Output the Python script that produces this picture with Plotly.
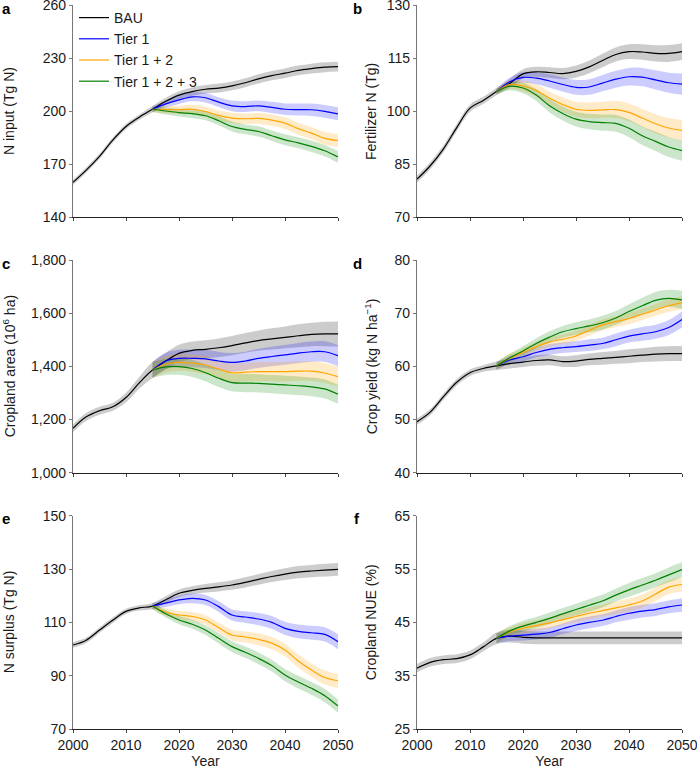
import plotly.graph_objects as go

BAU_YEARS = [2000 + 2.5 * i for i in range(21)]
TIER_YEARS = [2015 + 2.5 * i for i in range(15)]
SERIES = ["BAU", "Tier 1", "Tier 1 + 2", "Tier 1 + 2 + 3"]
LINE_COLORS = ["#000000", "#0000ff", "#ffa500", "#008000"]
BAND_COLORS = ["rgba(120,120,120,0.38)", "rgba(0,0,255,0.2)", "rgba(255,165,0,0.22)", "rgba(0,128,0,0.2)"]
X_TICKS = [2000, 2010, 2020, 2030, 2040, 2050]

# Panel a: N input (Tg N)
A_BAU = [159.6, 166.5, 174.3, 183.5, 191.2, 196.5, 201, 205.5, 209, 211, 212.3, 213, 214.2, 216, 218.2, 220, 221.4, 223, 224, 224.8, 225.1]
A_T1 = [201, 204, 206.3, 208, 207.5, 205, 202.9, 202.5, 202.9, 202, 201, 200.8, 200.7, 199.8, 198.4]
A_T12 = [201, 200.8, 200.7, 201, 199.7, 197.5, 196, 195.6, 195.8, 194.8, 193.1, 190, 187.5, 184.5, 183.3]
A_T123 = [201, 200, 199.1, 198.5, 197.3, 194.5, 191.2, 189.6, 188.4, 186, 183.7, 182, 180, 177.5, 174]
A_BAU_U = [1.5, 1.5, 1.5, 1.5, 1.5, 1.5, 1.8, 2, 2.2, 2.3, 2.4, 2.5, 2.5, 2.5, 2.6, 2.6, 2.7, 2.7, 2.8, 2.8, 2.8]
A_T1_U = [1.5, 2, 2.3, 2.5, 2.7, 2.8, 3, 3, 3.1, 3.2, 3.3, 3.4, 3.5, 3.6, 3.7]
A_T12_U = [1.5, 2, 2.3, 2.5, 2.7, 2.8, 3, 3, 3.1, 3.2, 3.3, 3.4, 3.5, 3.6, 3.7]
A_T123_U = [1.5, 2, 2.2, 2.4, 2.5, 2.6, 2.8, 2.8, 2.9, 3, 3.1, 3.1, 3.2, 3.2, 3.3]

# Panel b: Fertilizer N (Tg)
B_BAU = [80.7, 84.5, 89.3, 95.3, 100.8, 103, 105.5, 107.8, 110.5, 111.1, 110.9, 110.6, 111.2, 112.5, 114.3, 116, 116.8, 116.7, 116.3, 116.3, 116.8]
B_T1 = [105.5, 108.3, 109.5, 109.3, 108.5, 107.5, 106.7, 106.8, 107.9, 109, 109.7, 109.6, 108.8, 108, 107.6]
B_T12 = [105.5, 107.5, 107.1, 105.8, 103.6, 101.8, 100.5, 100.2, 100.3, 100.4, 99.6, 98, 96.4, 95.2, 94.5]
B_T123 = [105.5, 107, 106.5, 104.5, 101.5, 99.3, 97.7, 97, 96.7, 96.5, 95.1, 93, 91.4, 89.8, 88.8]
B_BAU_U = [1, 1, 1, 1, 1, 1, 1, 1.2, 1.3, 1.4, 1.5, 1.6, 1.7, 1.8, 1.9, 2, 2.1, 2.2, 2.3, 2.4, 2.4]
B_T1_U = [0.8, 1.2, 1.5, 1.7, 1.9, 2, 2.1, 2.2, 2.3, 2.4, 2.5, 2.6, 2.7, 2.8, 3]
B_T12_U = [0.8, 1.2, 1.5, 1.7, 1.9, 2, 2.1, 2.2, 2.3, 2.4, 2.5, 2.6, 2.7, 2.8, 2.9]
B_T123_U = [0.8, 1.2, 1.5, 1.7, 1.9, 2, 2.1, 2.2, 2.3, 2.4, 2.5, 2.6, 2.7, 2.8, 2.9]

# Panel c: Cropland area (10^6 ha)
C_BAU = [1167, 1210, 1233, 1248, 1283, 1338, 1386, 1420, 1449, 1460, 1464, 1470, 1478, 1488, 1497, 1503, 1509, 1515, 1520, 1522, 1522]
C_T1 = [1386, 1420, 1430, 1430, 1428, 1420, 1415, 1420, 1430, 1437, 1443, 1450, 1455, 1455, 1440]
C_T12 = [1386, 1408, 1415, 1412, 1405, 1390, 1376, 1378, 1380, 1380, 1380, 1382, 1382, 1375, 1361]
C_T123 = [1386, 1398, 1399, 1392, 1376, 1355, 1339, 1337, 1336, 1333, 1330, 1327, 1323, 1315, 1295]
C_BAU_U = [15, 15, 15, 15, 18, 22, 30, 31, 32, 33, 34, 35, 36, 37, 38, 40, 41, 43, 44, 46, 47]
C_T1_U = [30, 31, 32, 33, 34, 34, 35, 35, 36, 37, 37, 38, 38, 39, 40]
C_T12_U = [30, 31, 32, 33, 34, 34, 35, 35, 36, 36, 37, 37, 37, 38, 38]
C_T123_U = [30, 31, 31, 32, 32, 33, 33, 34, 34, 34, 35, 35, 35, 36, 36]

# Panel d: Crop yield (kg N ha-1)
D_BAU = [49.6, 51.4, 54.3, 57, 58.8, 59.6, 60.1, 60.5, 60.8, 61.1, 61.2, 60.9, 61, 61.3, 61.5, 61.7, 61.9, 62.1, 62.3, 62.4, 62.4]
D_T1 = [60.1, 61.2, 61.8, 62.6, 63.2, 63.5, 63.7, 64, 64.3, 65, 65.7, 66.1, 66.5, 67.3, 68.8]
D_T12 = [60.1, 61.5, 62.6, 63.7, 64.6, 65.1, 65.7, 66.8, 67.8, 68.4, 69, 69.8, 70.6, 71.4, 72]
D_T123 = [60.1, 61.6, 62.9, 64.3, 65.5, 66.5, 67.1, 67.6, 68.2, 69.1, 70.3, 71.4, 72.4, 72.8, 72.5]
D_BAU_U = [0.6, 0.6, 0.6, 0.6, 0.6, 0.6, 0.8, 0.9, 0.9, 1, 1, 1, 1.1, 1.1, 1.2, 1.2, 1.3, 1.3, 1.4, 1.4, 1.4]
D_T1_U = [0.7, 0.8, 0.9, 0.9, 1, 1, 1, 1.1, 1.1, 1.2, 1.2, 1.3, 1.3, 1.4, 1.5]
D_T12_U = [0.7, 0.8, 0.8, 0.9, 0.9, 0.9, 1, 1, 1, 1, 1.1, 1.1, 1.1, 1.2, 1.2]
D_T123_U = [0.7, 0.8, 0.9, 1, 1.1, 1.1, 1.2, 1.2, 1.3, 1.3, 1.4, 1.5, 1.6, 1.6, 1.7]

# Panel e: N surplus (Tg N)
E_BAU = [101.5, 103.3, 107.1, 110.8, 114.1, 115.4, 116.1, 118.5, 120.9, 122, 122.75, 123.3, 124, 125, 126.1, 127.2, 128.1, 128.8, 129.25, 129.6, 129.9]
E_T1 = [116.1, 117.2, 118.4, 119, 118.4, 115.9, 112.75, 112, 111.25, 110, 107.75, 106.6, 106.1, 105.5, 102.75]
E_T12 = [116.1, 113.8, 112.75, 112.2, 110.9, 108, 105.25, 104.5, 103.6, 102.2, 99.6, 95.5, 92.1, 89.3, 88.1]
E_T123 = [116.1, 113.2, 110.9, 109.3, 107.1, 104, 100.9, 98.8, 96.5, 93.8, 90.25, 87.6, 85.25, 82.5, 78.6]
E_BAU_U = [1, 1, 1, 1, 1, 1, 1.2, 1.3, 1.4, 1.5, 1.6, 1.7, 1.8, 1.9, 2, 2.1, 2.2, 2.3, 2.3, 2.4, 2.4]
E_T1_U = [1.2, 1.4, 1.6, 1.8, 1.9, 2, 2.1, 2.2, 2.3, 2.4, 2.5, 2.6, 2.6, 2.7, 2.8]
E_T12_U = [1.2, 1.4, 1.6, 1.7, 1.8, 1.9, 2, 2.1, 2.2, 2.3, 2.4, 2.5, 2.5, 2.6, 2.6]
E_T123_U = [1.2, 1.4, 1.6, 1.7, 1.8, 1.9, 2, 2.1, 2.2, 2.2, 2.3, 2.4, 2.4, 2.5, 2.5]

# Panel f: Cropland NUE (%)
F_BAU = [36.4, 37.5, 38, 38.2, 38.9, 40.4, 42, 42.4, 42.2, 42.1, 42.1, 42.1, 42.1, 42.1, 42.1, 42.1, 42.1, 42.1, 42.1, 42.1, 42.1]
F_T1 = [42, 42.4, 42.6, 42.8, 43.1, 43.8, 44.5, 45, 45.4, 46.1, 46.7, 47.1, 47.4, 47.9, 48.25]
F_T12 = [42, 43.2, 43.9, 44.4, 44.9, 45.5, 46.1, 46.7, 47.2, 47.7, 48.25, 49, 50.3, 51.6, 52.1]
F_T123 = [42, 43.4, 44.3, 45, 45.75, 46.6, 47.4, 48.2, 49, 50.1, 51.1, 52, 52.9, 53.9, 54.9]
F_BAU_U = [0.8, 0.8, 0.8, 0.8, 0.8, 0.8, 1.1, 1.2, 1.2, 1.2, 1.2, 1.2, 1.2, 1.2, 1.2, 1.2, 1.2, 1.2, 1.2, 1.2, 1.2]
F_T1_U = [0.9, 0.9, 1, 1, 1, 1, 1.1, 1.1, 1.1, 1.1, 1.2, 1.2, 1.2, 1.2, 1.25]
F_T12_U = [0.9, 0.9, 1, 1, 1, 1, 1.1, 1.1, 1.1, 1.2, 1.2, 1.2, 1.3, 1.3, 1.3]
F_T123_U = [0.9, 0.9, 1, 1, 1.1, 1.1, 1.1, 1.2, 1.2, 1.2, 1.3, 1.3, 1.3, 1.4, 1.4]

PANELS = [
    dict(letter="a", title="N input (Tg N)", ticks=[140, 170, 200, 230, 260],
         series=[(A_BAU, A_BAU_U), (A_T1, A_T1_U), (A_T12, A_T12_U), (A_T123, A_T123_U)]),
    dict(letter="b", title="Fertilizer N (Tg)", ticks=[70, 85, 100, 115, 130],
         series=[(B_BAU, B_BAU_U), (B_T1, B_T1_U), (B_T12, B_T12_U), (B_T123, B_T123_U)]),
    dict(letter="c", title="Cropland area (10<sup>6</sup> ha)", ticks=[1000, 1200, 1400, 1600, 1800],
         series=[(C_BAU, C_BAU_U), (C_T1, C_T1_U), (C_T12, C_T12_U), (C_T123, C_T123_U)]),
    dict(letter="d", title="Crop yield (kg N ha<sup>\u22121</sup>)", ticks=[40, 50, 60, 70, 80],
         series=[(D_BAU, D_BAU_U), (D_T1, D_T1_U), (D_T12, D_T12_U), (D_T123, D_T123_U)]),
    dict(letter="e", title="N surplus (Tg N)", ticks=[70, 90, 110, 130, 150],
         series=[(E_BAU, E_BAU_U), (E_T1, E_T1_U), (E_T12, E_T12_U), (E_T123, E_T123_U)]),
    dict(letter="f", title="Cropland NUE (%)", ticks=[25, 35, 45, 55, 65],
         series=[(F_BAU, F_BAU_U), (F_T1, F_T1_U), (F_T12, F_T12_U), (F_T123, F_T123_U)]),
]

W, H = 697, 773
X_DOMAINS = [(73 / W, 338 / W), (417 / W, 682 / W)]
Y_DOMAINS = [(1 - 217 / H, 1 - 5 / H), (1 - 472.7 / H, 1 - 260 / H), (1 - 729 / H, 1 - 515.7 / H)]
TITLE_X = [9, 371]
LETTER_X = [6, 357]

FONT = "Liberation Sans, Arial, sans-serif"
TXT = "#1a1a1a"
fig = go.Figure()
annotations = []

for i, p in enumerate(PANELS):
    row, col = i // 2, i % 2
    n = i + 1
    xa = "x" if n == 1 else f"x{n}"
    ya = "y" if n == 1 else f"y{n}"
    xkey = "xaxis" if n == 1 else f"xaxis{n}"
    ykey = "yaxis" if n == 1 else f"yaxis{n}"
    for k, (vals, unc) in enumerate(p["series"]):
        yrs = BAU_YEARS if k == 0 else TIER_YEARS
        lo = [v - u for v, u in zip(vals, unc)]
        hi = [v + u for v, u in zip(vals, unc)]
        fig.add_trace(go.Scatter(x=yrs, y=lo, xaxis=xa, yaxis=ya, mode="lines",
                                 line=dict(width=0, shape="spline", smoothing=1.0),
                                 showlegend=False, hoverinfo="skip"))
        fig.add_trace(go.Scatter(x=yrs, y=hi, xaxis=xa, yaxis=ya, mode="lines",
                                 line=dict(width=0, shape="spline", smoothing=1.0),
                                 fill="tonexty", fillcolor=BAND_COLORS[k],
                                 showlegend=False, hoverinfo="skip"))
    for k, (vals, unc) in enumerate(p["series"]):
        yrs = BAU_YEARS if k == 0 else TIER_YEARS
        fig.add_trace(go.Scatter(x=yrs, y=vals, xaxis=xa, yaxis=ya, mode="lines",
                                 name=SERIES[k],
                                 line=dict(color=LINE_COLORS[k], width=1.2, shape="spline", smoothing=1.0),
                                 showlegend=(i == 0)))
    fig.update_layout({
        xkey: dict(domain=X_DOMAINS[col], anchor=ya, range=[2000, 2050],
                   tickvals=X_TICKS, showticklabels=(row == 2), automargin=False,
                   ticklabeloverflow="allow",
                   showline=True, linecolor="#222222", linewidth=1,
                   ticks="outside", ticklen=3, tickcolor="#444444",
                   showgrid=False, zeroline=False,
                   tickfont=dict(family=FONT, size=14, color=TXT),
                   title=dict(text="Year" if row == 2 else "", font=dict(family=FONT, size=14, color=TXT),
                              standoff=1)),
        ykey: dict(domain=Y_DOMAINS[row], anchor=xa, range=[p["ticks"][0], p["ticks"][-1]],
                   tickvals=p["ticks"], tickformat=",", automargin=False,
                   ticklabeloverflow="allow",
                   showline=True, linecolor="#777777", linewidth=1.2,
                   ticks="outside", ticklen=3, tickcolor="#777777",
                   showgrid=False, zeroline=False,
                   tickfont=dict(family=FONT, size=14, color=TXT)),
    })
    annotations.append(dict(text=p["title"], xref="paper", yref="paper",
                            x=TITLE_X[col] / W, y=(Y_DOMAINS[row][0] + Y_DOMAINS[row][1]) / 2,
                            textangle=-90, showarrow=False, xanchor="center", yanchor="middle",
                            font=dict(family=FONT, size=14, color=TXT)))
    annotations.append(dict(text="<b>" + p["letter"] + "</b>", xref="paper", yref="paper",
                            x=LETTER_X[col] / W, y=Y_DOMAINS[row][1] - 3 / H,
                            showarrow=False, xanchor="center", yanchor="middle",
                            font=dict(family=FONT, size=15, color="#000000")))

fig.update_layout(
    width=W, height=H, margin=dict(l=0, r=0, t=0, b=0),
    paper_bgcolor="white", plot_bgcolor="white",
    annotations=annotations,
    legend=dict(x=74 / W, y=1 - 2 / H, xanchor="left", yanchor="top", traceorder="normal",
                bgcolor="rgba(0,0,0,0)", font=dict(family=FONT, size=14, color=TXT),
                itemwidth=30, tracegroupgap=0),
    font=dict(family=FONT),
)

fig.write_html("out.html", config={"displayModeBar": False},
               post_script="document.body.style.margin='0px'; document.body.style.overflow='hidden';")
